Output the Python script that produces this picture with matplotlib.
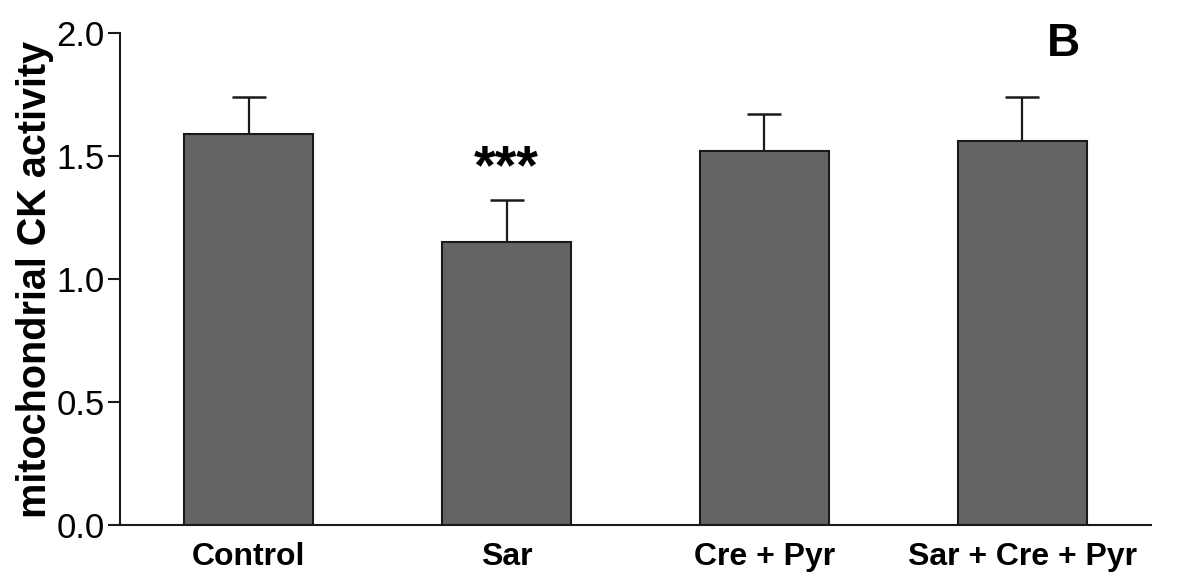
import matplotlib.pyplot as plt

# Data
groups = ["Control", "Sar", "Cre + Pyr", "Sar + Cre + Pyr"]
means = [1.59, 1.15, 1.52, 1.56]
errors = [0.15, 0.17, 0.15, 0.18]
stars = ["", "***", "", ""]

plt.rcParams["font.family"] = ["Liberation Sans", "DejaVu Sans"]

fig = plt.figure(figsize=(11.77, 5.81), dpi=100)
ax = fig.add_axes([0.102, 0.0964, 0.876, 0.8466])

x = list(range(len(groups)))
ax.bar(x, means, width=0.5, color="#646464", edgecolor="#1a1a1a", linewidth=1.5, zorder=2)
ax.errorbar(x, means, yerr=[[0] * len(errors), errors], fmt="none", ecolor="#1a1a1a",
            elinewidth=1.6, capsize=12.5, capthick=1.8, zorder=1)

# significance marks
for xi, m, e, s in zip(x, means, errors, stars):
    if s:
        ax.text(xi, m + e + 0.02, s, ha="center", va="bottom", fontsize=40, fontweight="bold")

ax.text(3.16, 1.955, "B", ha="center", va="center", fontsize=33, fontweight="bold")

ax.set_xlim(-0.5, 3.5)
ax.set_ylim(0, 2.0)
ax.set_yticks([0.0, 0.5, 1.0, 1.5, 2.0])
ax.set_yticklabels(["0.0", "0.5", "1.0", "1.5", "2.0"])
ax.set_xticks(x)
ax.set_xticklabels(groups, fontsize=23, fontweight="bold")
ax.tick_params(axis="x", length=0, pad=12)
ax.tick_params(axis="y", length=9, width=1.5, labelsize=25, pad=2, color="#1a1a1a")
ax.set_ylabel("mitochondrial CK activity", fontsize=28.5, fontweight="bold", labelpad=2)

for side in ["top", "right"]:
    ax.spines[side].set_visible(False)
for side in ["left", "bottom"]:
    ax.spines[side].set_linewidth(1.5)
    ax.spines[side].set_color("#1a1a1a")

plt.savefig("out.png", dpi=100)
